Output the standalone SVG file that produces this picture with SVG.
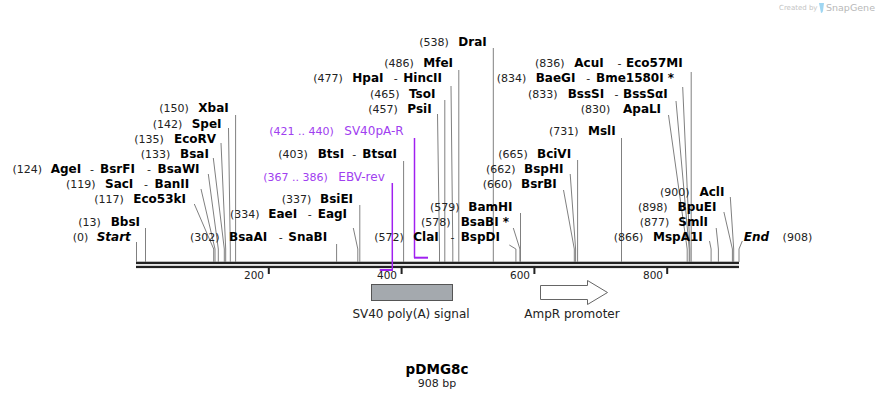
<svg xmlns="http://www.w3.org/2000/svg" width="876" height="400" viewBox="0 0 876 400">
<style>
text{font-family:"DejaVu Sans",Verdana,sans-serif;font-size:11px;fill:#222}
.b{font-weight:bold;font-size:12px;fill:#000}
.i{font-weight:bold;font-style:italic;font-size:12px;fill:#000}
.ln{fill:none;stroke:#808080;stroke-width:1}
.pr{fill:none;stroke:#a020f0;stroke-width:1.5}
.pt{fill:#a040f0}
.pn{font-size:12px}
.tk{font-size:10.5px;fill:#222}
.f{font-size:12px;fill:#222}
</style>
<rect width="876" height="400" fill="#fff"/>
<g id="logo">
<text x="779" y="10" style="font-size:7px;fill:#c4c4c4">Created by</text>
<path d="M819,3 h5 l-1,8 q-0.5,2 -2,2 z" fill="#9fd6f2"/>
<text x="826" y="11" style="font-size:9.5px;fill:#b8b8b8">SnapGene</text>
</g>
<g id="backbone">
<rect x="136" y="261.7" width="603" height="2.4" fill="#222"/>
<rect x="136" y="265.8" width="603" height="2.3" fill="#222"/>
<rect x="267.8" y="268" width="2" height="6" fill="#222"/>
<rect x="400.6" y="268" width="2" height="6" fill="#222"/>
<rect x="533.4" y="268" width="2" height="6" fill="#222"/>
<rect x="666.2" y="268" width="2" height="6" fill="#222"/>
<text class="tk" x="264" y="279" text-anchor="end">200</text>
<text class="tk" x="397" y="279" text-anchor="end">400</text>
<text class="tk" x="530" y="279" text-anchor="end">600</text>
<text class="tk" x="663" y="279" text-anchor="end">800</text>
</g>
<g id="connectors">
<path class="ln" d="M136.5,242V262"/>
<path class="ln" d="M145.5,228V262"/>
<path class="ln" d="M194.3,204L213.7,249V262"/>
<path class="ln" d="M201,189L215,249V262"/>
<path class="ln" d="M208.3,174L218.3,249V262"/>
<path class="ln" d="M213.3,158L224.3,249V262"/>
<path class="ln" d="M221,143L225.7,249V262"/>
<path class="ln" d="M228.5,128L230.3,249V262"/>
<path class="ln" d="M235.6,115V262"/>
<path class="ln" d="M336.6,244V262"/>
<path class="ln" d="M353.3,228L357.8,249V262"/>
<path class="ln" d="M359.8,205V262"/>
<path class="ln" d="M403.6,161V262"/>
<path class="ln" d="M437.5,114L439.5,249V262"/>
<path class="ln" d="M444.8,100V262"/>
<path class="ln" d="M451,86L452.8,249V262"/>
<path class="ln" d="M458.8,70V262"/>
<path class="ln" d="M493.3,48V262"/>
<path class="ln" d="M509.3,245L515.9,249V262"/>
<path class="ln" d="M513.3,228L519.9,249V262"/>
<path class="ln" d="M520.5,213V262"/>
<path class="ln" d="M563.5,190L574.3,249V262"/>
<path class="ln" d="M570.2,174L575.6,249V262"/>
<path class="ln" d="M577.6,160V262"/>
<path class="ln" d="M621.5,138V262"/>
<path class="ln" d="M668.5,115L687.2,249V262"/>
<path class="ln" d="M676,101L689.2,249V262"/>
<path class="ln" d="M682.7,87L689.9,249V262"/>
<path class="ln" d="M691.2,72V262"/>
<path class="ln" d="M709.5,241L711.1,249V262"/>
<path class="ln" d="M716.2,228L718.4,249V262"/>
<path class="ln" d="M723.9,212L732.4,249V262"/>
<path class="ln" d="M730.3,197L733.7,249V262"/>
<path class="ln" d="M742.3,241L739,249V262"/>
<path class="pr" d="M414.5,138V257.7"/>
<path d="M414,257.7H428" stroke="#a020f0" stroke-width="2" fill="none"/>
<path class="pr" d="M392.3,183V270"/>
<path d="M379.7,270H393" stroke="#a020f0" stroke-width="2" fill="none"/>
</g>
<g id="start"><text x="72.7" y="241">(0)<tspan class="i" x="96.7">Start</tspan></text></g>
<g id="bbsi"><text x="78.3" y="226">(13)<tspan class="b" x="110.7">BbsI</tspan></text></g>
<g id="eco53ki"><text x="94.3" y="203">(117)<tspan class="b" x="133.3">Eco53kI</tspan></text></g>
<g id="saci"><text x="66" y="188">(119)<tspan class="b" x="105">SacI</tspan><tspan x="144">-</tspan><tspan class="b" x="154.5">BanII</tspan></text></g>
<g id="agei"><text x="12.5" y="173">(124)<tspan class="b" x="50.7">AgeI</tspan><tspan x="90">-</tspan><tspan class="b" x="100">BsrFI</tspan><tspan x="147">-</tspan><tspan class="b" x="157.5">BsaWI</tspan></text></g>
<g id="bsai"><text x="140.7" y="158">(133)<tspan class="b" x="180">BsaI</tspan></text></g>
<g id="ecorv"><text x="134.3" y="143">(135)<tspan class="b" x="174">EcoRV</tspan></text></g>
<g id="spei"><text x="152.7" y="128">(142)<tspan class="b" x="191.7">SpeI</tspan></text></g>
<g id="xbai"><text x="159.3" y="112">(150)<tspan class="b" x="198.3">XbaI</tspan></text></g>
<g id="bsaai"><text x="190" y="241">(302)<tspan class="b" x="229">BsaAI</tspan><tspan x="278.8">-</tspan><tspan class="b" x="288.3">SnaBI</tspan></text></g>
<g id="eaei"><text x="230" y="218">(334)<tspan class="b" x="268.3">EaeI</tspan><tspan x="307.8">-</tspan><tspan class="b" x="317.7">EagI</tspan></text></g>
<g id="bsiei"><text x="281.7" y="203">(337)<tspan class="b" x="320">BsiEI</tspan></text></g>
<g id="btsi"><text x="278.3" y="158">(403)<tspan class="b" x="317.7">BtsI</tspan><tspan x="352.2">-</tspan><tspan class="b" x="362.3">BtsαI</tspan></text></g>
<g id="psii"><text x="368.3" y="113">(457)<tspan class="b" x="407.3">PsiI</tspan></text></g>
<g id="tsoi"><text x="370" y="98">(465)<tspan class="b" x="409">TsoI</tspan></text></g>
<g id="hpai"><text x="313.3" y="82">(477)<tspan class="b" x="352.3">HpaI</tspan><tspan x="393.8">-</tspan><tspan class="b" x="403.3">HincII</tspan></text></g>
<g id="mfei"><text x="384.3" y="67">(486)<tspan class="b" x="423.3">MfeI</tspan></text></g>
<g id="drai"><text x="419.3" y="46">(538)<tspan class="b" x="458.3">DraI</tspan></text></g>
<g id="clai"><text x="374.3" y="241">(572)<tspan class="b" x="413.3">ClaI</tspan><tspan x="450.5">-</tspan><tspan class="b" x="460.7">BspDI</tspan></text></g>
<g id="bsabi"><text x="421" y="226">(578)<tspan class="b" x="460.7">BsaBI *</tspan></text></g>
<g id="bamhi"><text x="430" y="211">(579)<tspan class="b" x="468.3">BamHI</tspan></text></g>
<g id="bsrbi"><text x="482.7" y="188">(660)<tspan class="b" x="521">BsrBI</tspan></text></g>
<g id="bsphi"><text x="486" y="173">(662)<tspan class="b" x="524">BspHI</tspan></text></g>
<g id="bcivi"><text x="498.3" y="158">(665)<tspan class="b" x="537">BciVI</tspan></text></g>
<g id="msli"><text x="549" y="135">(731)<tspan class="b" x="588">MslI</tspan></text></g>
<g id="apali"><text x="580.7" y="113">(830)<tspan class="b" x="623">ApaLI</tspan></text></g>
<g id="bsssi"><text x="528" y="98">(833)<tspan class="b" x="567.7">BssSI</tspan><tspan x="614.5">-</tspan><tspan class="b" x="623">BssSαI</tspan></text></g>
<g id="baegi"><text x="496.7" y="82">(834)<tspan class="b" x="535.7">BaeGI</tspan><tspan x="586.2">-</tspan><tspan class="b" x="596">Bme1580I *</tspan></text></g>
<g id="acui"><text x="535" y="67">(836)<tspan class="b" x="574.3">AcuI</tspan><tspan x="617.5">-</tspan><tspan class="b" x="626">Eco57MI</tspan></text></g>
<g id="acli"><text x="660" y="196">(900)<tspan class="b" x="699.4">AclI</tspan></text></g>
<g id="bpuei"><text x="638" y="211">(898)<tspan class="b" x="677.6">BpuEI</tspan></text></g>
<g id="smli"><text x="639.7" y="226">(877)<tspan class="b" x="678.3">SmlI</tspan></text></g>
<g id="mspa1i"><text x="613.8" y="241">(866)<tspan class="b" x="653">MspA1I</tspan></text></g>
<g id="end"><text x="743.7" y="241" class="i">End</text><text x="782.6" y="241">(908)</text></g>
<g id="sv40pa-r"><text class="pt" x="269.3" y="135">(421 .. 440)<tspan class="pn" x="344.3">SV40pA-R</tspan></text></g>
<g id="ebv-rev"><text class="pt" x="263.3" y="181">(367 .. 386)<tspan class="pn" x="338.3">EBV-rev</tspan></text></g>
<g id="sv40-polya">
<rect x="371.5" y="284.5" width="81" height="16" fill="#a4a9ae" stroke="#555" stroke-width="1"/>
<text class="f" x="411" y="318" text-anchor="middle">SV40 poly(A) signal</text>
</g>
<g id="ampr-promoter">
<path d="M540.5,285.5H587.5V280.5L607.5,292.5L587.5,304.5V299.5H540.5Z" fill="#fff" stroke="#666" stroke-width="1"/>
<text class="f" x="572" y="318" text-anchor="middle">AmpR promoter</text>
</g>
<g id="title">
<text x="437" y="374" text-anchor="middle" style="font-size:13.5px;font-weight:bold;fill:#000">pDMG8c</text>
<text x="437" y="387" text-anchor="middle">908 bp</text>
</g>
</svg>
